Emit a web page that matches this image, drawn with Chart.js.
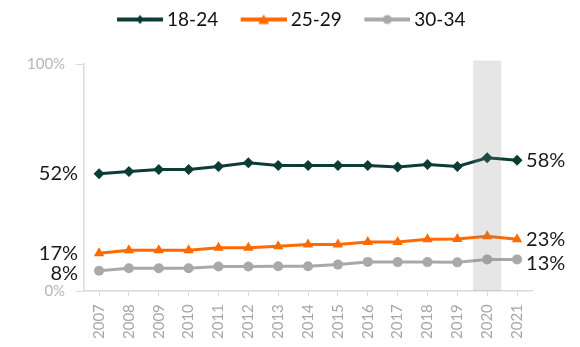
<!DOCTYPE html>
<html>
<head>
<meta charset="utf-8">
<script src="https://cdn.jsdelivr.net/npm/chart.js@4"></script>
<style>
  html, body { margin: 0; padding: 0; background: #fff; }
  #wrap { width: 580px; height: 347px; }
</style>
</head>
<body>
<div id="wrap"><canvas id="chart"></canvas></div>
<script>
// values
const years = ['2007','2008','2009','2010','2011','2012','2013','2014','2015','2016','2017','2018','2019','2020','2021'];
const age1824 = [51.7, 52.7, 53.6, 53.6, 54.9, 56.5, 55.3, 55.3, 55.3, 55.3, 54.7, 55.8, 54.9, 58.7, 57.6];
const age2529 = [16.7, 18.0, 18.0, 18.0, 19.1, 19.1, 19.8, 20.6, 20.6, 21.7, 21.7, 22.9, 23.0, 24.2, 22.9];
const age3034 = [9.0, 10.1, 10.1, 10.1, 10.9, 10.9, 11.0, 11.0, 11.7, 12.9, 12.8, 12.8, 12.7, 14.0, 14.0];
const startLabels = ['52%', '17%', '8%'];
const endLabels = ['58%', '23%', '13%'];
const shadedYear = '2020';
const shade = years.map(y => y === shadedYear ? 101.5 : null);

const GREEN = '#0b3c35', ORANGE = '#ff6a00', GREY = '#a9a9a9';
const FONT = 'Lato, "Open Sans", sans-serif';

// legend swatch: short line with the marker in the middle
function swatch(color, style) {
  const c = document.createElement('canvas');
  c.width = 64; c.height = 16;
  const g = c.getContext('2d');
  g.strokeStyle = color; g.fillStyle = color; g.lineWidth = 4;
  g.beginPath(); g.moveTo(18, 8); g.lineTo(64, 8); g.stroke();
  const cx = 41, cy = 8;
  g.beginPath();
  if (style === 'diamond') { g.moveTo(cx, cy-4.5); g.lineTo(cx+4, cy); g.lineTo(cx, cy+4.5); g.lineTo(cx-4, cy); }
  else if (style === 'triangle') { g.moveTo(cx, cy-5); g.lineTo(cx+5.5, cy+4.5); g.lineTo(cx-5.5, cy+4.5); }
  else { g.arc(cx, cy, 4.5, 0, Math.PI*2); }
  g.closePath(); g.fill();
  return c;
}

// first/last value labels beside the lines
const endLabelPlugin = {
  id: 'endLabels',
  afterDatasetsDraw(chart) {
    const ctx = chart.ctx;
    const nudge = [0, 0, 3];
    ctx.save();
    ctx.font = '20px ' + FONT;
    ctx.fillStyle = '#1a1a1a';
    ctx.textBaseline = 'middle';
    [0, 1, 2].forEach(i => {
      const pts = chart.getDatasetMeta(i).data;
      const first = pts[0], last = pts[pts.length - 1];
      ctx.textAlign = 'right';
      ctx.fillText(startLabels[i], first.x - 21, first.y + nudge[i]);
      ctx.textAlign = 'left';
      ctx.fillText(endLabels[i], last.x + 9, last.y + (i === 2 ? 4 : 0));
    });
    ctx.restore();
  }
};

// push the plot down below the legend, and centre the legend on the canvas
const legendGap = {
  id: 'legendGap',
  beforeInit(chart) {
    const fit = chart.legend.fit;
    chart.legend.fit = function () { fit.call(this); this.height += 25; };
  },
  afterLayout(chart) {
    chart.legend.left += 11;
    chart.legend.right += 11;
  }
};

const swatches = [swatch(GREEN, 'diamond'), swatch(ORANGE, 'triangle'), swatch(GREY, 'circle')];

new Chart(document.getElementById('chart'), {
  data: {
    labels: years,
    datasets: [
      { type: 'line', label: '18-24', data: age1824, order: 1, borderColor: GREEN, backgroundColor: GREEN,
        borderWidth: 3, pointStyle: 'rectRot', pointRadius: 5.5, pointBorderWidth: 0, tension: 0 },
      { type: 'line', label: '25-29', data: age2529, order: 2, borderColor: ORANGE, backgroundColor: ORANGE,
        borderWidth: 3, pointStyle: 'triangle', pointRadius: 6, pointBorderWidth: 0, tension: 0 },
      { type: 'line', label: '30-34', data: age3034, order: 3, borderColor: GREY, backgroundColor: GREY,
        borderWidth: 3, pointStyle: 'circle', pointRadius: 5, pointBorderWidth: 0, tension: 0 },
      { type: 'bar', label: '', data: shade, order: 0, backgroundColor: 'rgba(128,128,128,0.2)',
        barPercentage: 0.94, categoryPercentage: 1, clip: false }
    ]
  },
  options: {
    responsive: true,
    maintainAspectRatio: false,
    animation: false,
    layout: { padding: { top: 0, left: 16, right: 48, bottom: 0 } },
    plugins: {
      tooltip: { enabled: false },
      legend: {
        position: 'top',
        labels: {
          usePointStyle: true,
          pointStyleWidth: 53,
          padding: 10,
          color: '#111',
          font: { family: FONT, size: 19 },
          generateLabels: chart => [0, 1, 2].map(i => ({
            text: chart.data.datasets[i].label,
            pointStyle: swatches[i],
            datasetIndex: i,
            hidden: false,
            lineWidth: 0,
            fontColor: '#111'
          }))
        }
      }
    },
    scales: {
      x: {
        offset: true,
        grid: { drawOnChartArea: false, offset: false, tickLength: 5, color: '#d9d9d9' },
        border: { color: '#d9d9d9', width: 1.5 },
        ticks: { color: '#a6a6a6', font: { family: FONT, size: 15 }, minRotation: 90, maxRotation: 90, padding: 8, autoSkip: false }
      },
      y: {
        min: 0, max: 100,
        grid: { drawOnChartArea: false, tickLength: 8, color: '#d9d9d9' },
        border: { color: '#d9d9d9', width: 1.5 },
        ticks: { stepSize: 100, color: '#b5b5b5', font: { family: FONT, size: 15 }, padding: 11, callback: v => v + '%' }
      }
    }
  },
  plugins: [endLabelPlugin, legendGap]
});
</script>
</body>
</html>
